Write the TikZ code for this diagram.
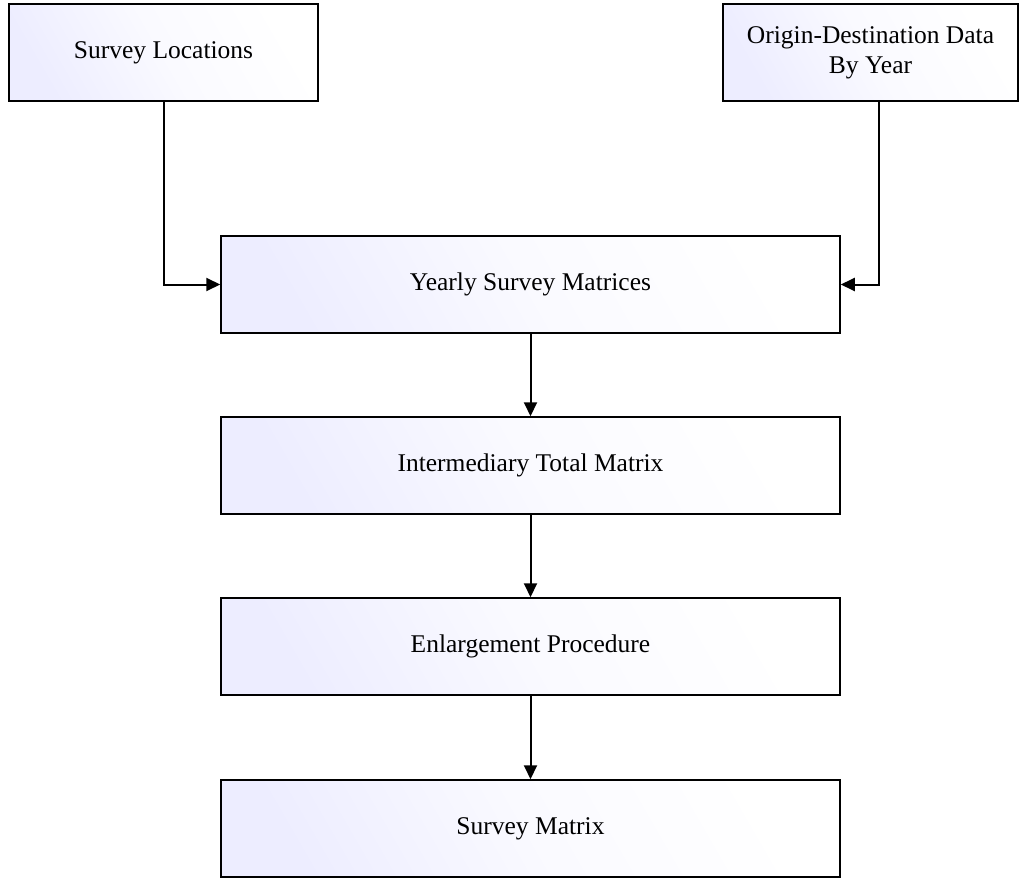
\documentclass[tikz,border=0pt]{standalone}
\usepackage{fontspec}
\setmainfont{Liberation Serif}
\usetikzlibrary{arrows.meta}
\tikzset{
  flowbox/.style={draw, line width=1.5pt, minimum height=97pt, align=center,
    font=\fontsize{25.5}{30}\selectfont, inner sep=0pt,
    left color=blue!7, right color=white, middle color=white!98!blue, shading angle=120},
  link/.style={->, line width=2pt}
}
\begin{document}
\begin{tikzpicture}[>={Triangle[length=14pt,width=13pt]}, x=1pt, y=-1pt]
\useasboundingbox (0,0) rectangle (1024,880);

\node[flowbox, minimum width=309pt](loc) at (163.5,52.5){Survey Locations};
\node[flowbox, minimum width=295pt](od) at (870.5,52.5){Origin-Destination Data\\By Year};
\node[flowbox, minimum width=619pt](yearly) at (530.5,284.5){Yearly Survey Matrices};
\node[flowbox, minimum width=619pt](inter) at (530.5,465.5){Intermediary Total Matrix};
\node[flowbox, minimum width=619pt](enl) at (530.5,646.5){Enlargement Procedure};
\node[flowbox, minimum width=619pt](mat) at (530.5,828.5){Survey Matrix};

\draw[link](loc.south)|-(yearly.west);
\draw[link]([xshift=8pt]od.south)|-(yearly.east);
\draw[link](yearly)--(inter);
\draw[link](inter)--(enl);
\draw[link](enl)--(mat);

\end{tikzpicture}
\end{document}
